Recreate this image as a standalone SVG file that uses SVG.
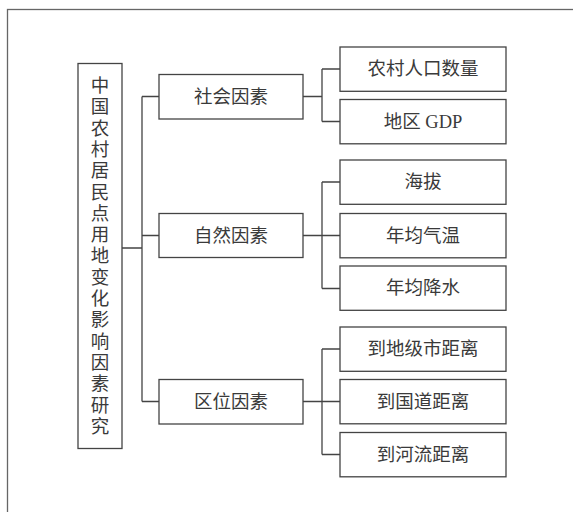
<svg xmlns="http://www.w3.org/2000/svg" width="573" height="512" viewBox="0 0 573 512">
<style>
.box{fill:#fff;stroke:#444;stroke-width:1.3}
.t{font-family:"Liberation Serif","Noto Sans CJK SC",serif;font-size:18.5px;fill:#3a3a3a;text-anchor:middle;dominant-baseline:central}
.c{fill:none;stroke:#444;stroke-width:1.3}
</style>
<rect width="573" height="512" fill="#fff"/>
<rect x="7.5" y="9.5" width="620" height="620" fill="none" stroke="#666" stroke-width="1.3"/>
<g id="connectors">
<path class="c" d="M122 248H142M142 96.5V401.5M142 96.5H159M142 235.5H159M142 401.5H159"/>
<path class="c" d="M303 96.5H322M322 69V121.5M322 69H340M322 121.5H340"/>
<path class="c" d="M303 235.5H340M322 182V288.5M322 182H340M322 288.5H340"/>
<path class="c" d="M303 401.5H340M322 349V454.5M322 349H340M322 454.5H340"/>
</g>
<g id="root">
<rect class="box" x="78" y="63.5" width="44" height="385"/>
<text class="t" x="100">
<tspan x="100" y="86">中</tspan><tspan x="100" y="107.3">国</tspan><tspan x="100" y="128.6">农</tspan><tspan x="100" y="149.9">村</tspan><tspan x="100" y="171.2">居</tspan><tspan x="100" y="192.5">民</tspan><tspan x="100" y="213.8">点</tspan><tspan x="100" y="235.1">用</tspan><tspan x="100" y="256.4">地</tspan><tspan x="100" y="277.7">变</tspan><tspan x="100" y="299">化</tspan><tspan x="100" y="320.3">影</tspan><tspan x="100" y="341.6">响</tspan><tspan x="100" y="362.9">因</tspan><tspan x="100" y="384.2">素</tspan><tspan x="100" y="405.5">研</tspan><tspan x="100" y="426.8">究</tspan>
</text>
</g>
<g id="social"><rect class="box" x="159" y="74.5" width="144" height="44.5"/><text class="t" x="231" y="96.7">社会因素</text></g>
<g id="natural"><rect class="box" x="159" y="213.5" width="144" height="44"/><text class="t" x="231" y="235.5">自然因素</text></g>
<g id="location"><rect class="box" x="159" y="379.5" width="144" height="44.5"/><text class="t" x="231" y="401.7">区位因素</text></g>
<g id="pop"><rect class="box" x="340" y="47" width="166" height="44.3"/><text class="t" x="423" y="69.1">农村人口数量</text></g>
<g id="gdp"><rect class="box" x="340" y="99.5" width="166" height="44.3"/><text class="t" x="423" y="121.6">地区 GDP</text></g>
<g id="alt"><rect class="box" x="340" y="160" width="166" height="44.3"/><text class="t" x="423" y="182.1">海拔</text></g>
<g id="temp"><rect class="box" x="340" y="213.5" width="166" height="44.3"/><text class="t" x="423" y="235.6">年均气温</text></g>
<g id="rain"><rect class="box" x="340" y="266" width="166" height="44.3"/><text class="t" x="423" y="288.1">年均降水</text></g>
<g id="city"><rect class="box" x="340" y="327" width="166" height="44.3"/><text class="t" x="423" y="349.1">到地级市距离</text></g>
<g id="road"><rect class="box" x="340" y="379.5" width="166" height="44.3"/><text class="t" x="423" y="401.6">到国道距离</text></g>
<g id="river"><rect class="box" x="340" y="432.5" width="166" height="44.3"/><text class="t" x="423" y="454.6">到河流距离</text></g>
</svg>
